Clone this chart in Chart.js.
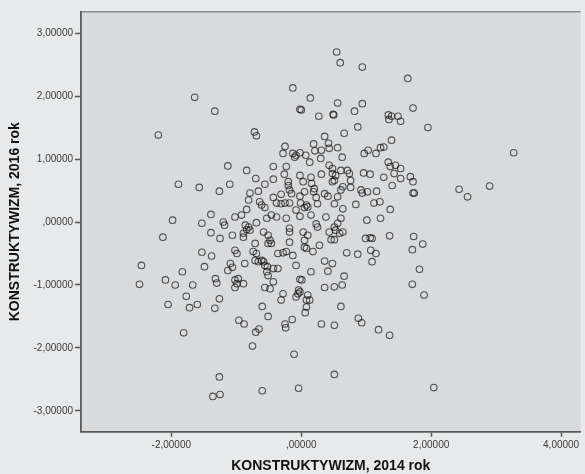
<!DOCTYPE html>
<html>
<head>
<meta charset="utf-8">
<script src="https://cdn.jsdelivr.net/npm/chart.js@4"></script>
<style>
  html, body { margin: 0; padding: 0; background: #e8e9ea; }
  #c { display: block; }
</style>
</head>
<body>
<canvas id="c" width="585" height="474"></canvas>
<script>
// KONSTRUKTYWIZM, 2014 rok (x) vs KONSTRUKTYWIZM, 2016 rok (y)
const xs = [
 // outer points
 -0.13,0.14,-1.64,-1.33,-0.02,0.00,0.27,-2.20,-1.13,-1.89,-1.57,-1.26,-1.10,
 0.545,0.60,0.94,1.64,0.56,0.94,1.72,0.49,0.50,0.82,1.34,1.35,1.39,1.49,1.53,1.95,3.27,2.43,2.90,2.56,
 -1.98,-1.53,-1.39,-1.20,-1.18,-2.13,-1.39,-1.25,-1.06,-1.53,-1.38,-2.46,-2.49,-1.83,-1.49,-1.13,-1.09,-1.06,
 -2.09,-1.94,-1.67,-1.32,-1.30,-1.77,-2.05,-1.72,-1.60,-1.26,-1.33,0.06,-0.51,-0.96,-0.88,-0.70,-0.65,-0.25,-0.24,
 -0.14,0.31,0.51,-1.81,-0.75,-0.11,0.51,-1.26,-1.36,-1.25,-0.60,-0.04,
 1.87,1.89,0.88,0.93,1.19,1.36,2.04,
 // central cloud, upper part
 -0.72,-0.69,0.36,0.66,0.87,1.39,-0.25,-0.28,-0.13,-0.08,-0.02,-0.10,0.07,0.19,0.21,0.31,0.42,0.43,0.56,0.63,
 0.13,0.30,0.43,0.48,0.97,1.03,1.15,1.22,1.27,-0.84,-0.43,-0.23,-0.26,-0.02,0.15,0.16,0.03,-0.20,-0.20,0.31,
 0.48,0.53,0.51,0.48,0.61,0.71,0.74,0.76,0.96,1.06,1.27,1.34,1.37,1.45,1.53,1.43,1.53,1.40,1.68,1.72,
 1.72,1.74,-0.70,-0.56,-0.43,-0.18,-0.15,0.05,0.20,0.19,-0.79,-0.81,-0.66,-0.43,-0.31,-0.02,0.23,0.36,0.41,0.56,
 0.61,0.64,0.76,0.92,0.94,1.02,1.16,-0.64,-0.61,-0.56,-0.84,-0.38,-0.31,-0.25,-0.18,-0.01,0.05,0.08,0.10,-0.08,
 0.25,0.51,0.64,0.84,1.12,1.21,1.37,
 // central cloud, lower part
 -1.02,-0.92,-0.86,-0.81,-0.79,-0.84,-0.89,-0.89,-0.69,-0.58,-0.51,-0.48,-0.46,-0.51,-0.46,-0.38,-0.53,-0.23,-0.18,-0.18,
 -0.02,0.15,0.38,0.03,0.23,0.25,0.10,0.05,0.05,0.08,0.18,-0.18,0.43,0.51,0.56,0.53,0.59,0.64,0.61,0.28,
 0.46,0.51,0.70,0.87,1.01,1.22,0.99,1.06,1.09,1.07,1.15,1.09,1.36,1.73,1.71,1.82,1.71,0.66,0.36,0.48,
 0.41,0.15,-0.08,-0.36,-0.28,-0.23,-0.13,-0.71,-0.74,-0.69,-0.71,-0.66,-0.61,-0.58,-0.56,-0.52,-0.53,-0.51,-0.43,-0.36,
 -1.02,-0.99,-0.87,-1.02,-0.97,-0.99,-1.02,-0.89,-0.43,-0.56,-0.48,-0.28,-0.31,-0.02,0.01,-0.04,-0.02,-0.05,0.10,0.13,
 0.08,-0.08,0.36,0.51,0.63,-0.60,0.08,0.61
];
const ys = [
 // outer points
 2.13,1.97,1.98,1.76,1.79,1.78,1.68,1.38,0.89,0.60,0.55,0.49,0.60,
 2.70,2.53,2.46,2.28,1.89,1.88,1.81,1.71,1.70,1.76,1.70,1.63,1.68,1.68,1.60,1.50,1.10,0.52,0.57,0.40,
 0.03,-0.02,0.12,0.00,-0.05,-0.24,-0.17,-0.26,-0.21,-0.48,-0.54,-0.69,-0.99,-0.79,-0.71,-0.77,-0.66,-0.72,
 -0.92,-1.00,-1.00,-0.90,-0.97,-1.18,-1.31,-1.36,-1.31,-1.22,-1.37,-1.44,-1.50,-1.56,-1.62,-1.75,-1.70,-1.62,-1.68,
 -1.55,-1.62,-1.64,-1.76,-1.97,-2.10,-2.42,-2.46,-2.77,-2.74,-2.68,-2.64,
 -0.35,-1.16,-1.53,-1.60,-1.71,-1.80,-2.63,
 // central cloud, upper part
 1.43,1.37,1.36,1.41,1.51,1.30,1.20,1.09,1.09,1.06,1.10,1.03,1.06,1.24,1.13,1.14,1.25,1.17,1.18,1.03,
 0.95,1.01,0.90,0.85,1.09,1.14,1.09,1.18,1.19,0.82,0.88,0.88,0.76,0.74,0.71,0.61,0.64,0.64,0.58,0.76,
 0.77,0.74,0.66,0.64,0.82,0.82,0.77,0.66,0.78,0.76,0.71,0.95,0.88,0.90,0.85,0.77,0.69,0.58,0.72,0.64,
 0.46,0.46,0.69,0.60,0.68,0.51,0.45,0.48,0.53,0.48,0.46,0.35,0.49,0.39,0.44,0.41,0.39,0.45,0.41,0.40,
 0.51,0.56,0.55,0.51,0.46,0.48,0.49,0.32,0.27,0.23,0.20,0.30,0.29,0.30,0.30,0.30,0.23,0.27,0.24,0.19,
 0.29,0.29,0.21,0.28,0.30,0.32,0.20,
 // central cloud, lower part
 0.08,0.11,-0.05,-0.08,-0.13,-0.12,-0.18,-0.24,-0.01,-0.16,-0.21,-0.29,-0.34,-0.34,0.11,0.08,0.06,0.06,-0.10,-0.16,
 0.09,0.11,0.08,-0.16,-0.03,-0.08,-0.21,-0.29,-0.40,-0.42,-0.47,-0.32,-0.16,-0.08,-0.02,-0.13,-0.18,-0.16,0.06,-0.37,
 -0.28,-0.28,-0.49,-0.51,0.03,0.06,-0.26,-0.25,-0.26,-0.45,-0.50,-0.63,-0.22,-0.23,-0.44,-0.75,-0.99,-0.86,-0.62,-0.66,
 -0.78,-0.79,-0.69,-0.50,-0.49,-0.47,-0.53,-0.34,-0.47,-0.50,-0.61,-0.63,-0.61,-0.63,-0.69,-0.71,-0.79,-0.85,-0.74,-0.74,
 -0.45,-0.50,-0.66,-0.92,-0.90,-0.98,-1.04,-0.98,-0.95,-1.04,-1.06,-1.14,-1.24,-0.91,-0.92,-1.08,-1.11,-1.14,-1.16,-1.24,
 -1.24,-1.19,-1.04,-1.03,-1.00,-1.34,-1.35,-1.34
];
const xTickValues = [-2, 0, 2, 4];
const xTickLabels = ['-2,00000', ',00000', '2,00000', '4,00000'];
const yTickValues = [-3, -2, -1, 0, 1, 2, 3];
const yTickLabels = ['-3,00000', '-2,00000', '-1,00000', ',00000', '1,00000', '2,00000', '3,00000'];
const xTitle = 'KONSTRUKTYWIZM, 2014 rok';
const yTitle = 'KONSTRUKTYWIZM, 2016 rok';

const points = xs.map((x, i) => ({ x: x, y: ys[i] }));

const bgPlugin = {
  id: 'bgPlugin',
  beforeDraw(chart) {
    const ctx = chart.ctx;
    const a = chart.chartArea;
    ctx.save();
    ctx.fillStyle = '#e8e9ea';
    ctx.fillRect(0, 0, chart.width, chart.height);
    ctx.fillStyle = '#d9dadc';
    ctx.fillRect(a.left, a.top, a.right - a.left, a.bottom - a.top);
    ctx.strokeStyle = '#8a8b8d';
    ctx.lineWidth = 1.5;
    ctx.beginPath();
    ctx.moveTo(a.left, a.top);
    ctx.lineTo(a.right, a.top);
    ctx.stroke();
    ctx.restore();
  }
};

const tickFont = { family: '"Liberation Sans", Arial, sans-serif', size: 10 };
const titleFont = { family: '"Liberation Sans", Arial, sans-serif', size: 14, weight: 'bold' };

new Chart(document.getElementById('c'), {
  type: 'scatter',
  data: {
    datasets: [{
      data: points,
      pointStyle: 'circle',
      pointRadius: 3.3,
      pointHoverRadius: 3.3,
      pointBorderWidth: 1.1,
      pointBorderColor: 'rgba(15,15,15,0.68)',
      pointBackgroundColor: 'rgba(0,0,0,0)'
    }]
  },
  plugins: [bgPlugin],
  options: {
    responsive: false,
    devicePixelRatio: 1,
    animation: false,
    events: [],
    layout: { padding: { top: 11.7, right: 0, bottom: 0, left: 0 } },
    plugins: { legend: { display: false }, tooltip: { enabled: false } },
    scales: {
      x: {
        type: 'linear',
        min: -3.39,
        max: 4.30,
        afterBuildTicks(scale) { scale.ticks = xTickValues.map(v => ({ value: v })); },
        afterFit(scale) { scale.height = 42.3; scale.paddingLeft = 0; scale.paddingRight = 0; },
        ticks: {
          callback(v) { const i = xTickValues.indexOf(v); return i >= 0 ? xTickLabels[i] : ''; },
          font: tickFont, color: '#3a3a3a', padding: 3, maxRotation: 0, autoSkip: false
        },
        grid: { display: true, drawOnChartArea: false, drawTicks: true, tickLength: 5, tickColor: '#555', tickWidth: 1.5 },
        border: { display: true, color: '#5a5a5a', width: 1.8 },
        title: { display: true, text: xTitle, font: titleFont, color: '#111', padding: { top: 0, bottom: -1 } }
      },
      y: {
        type: 'linear',
        min: -3.33,
        max: 3.34,
        afterBuildTicks(scale) { scale.ticks = yTickValues.map(v => ({ value: v })); },
        afterFit(scale) { scale.width = 81; scale.paddingTop = 0; scale.paddingBottom = 0; },
        ticks: {
          callback(v) { const i = yTickValues.indexOf(v); return i >= 0 ? yTickLabels[i] : ''; },
          font: tickFont, color: '#3a3a3a', padding: 2, autoSkip: false
        },
        grid: { display: true, drawOnChartArea: false, drawTicks: true, tickLength: 6, tickColor: '#555', tickWidth: 1.5 },
        border: { display: true, color: '#5a5a5a', width: 1.8 },
        title: { display: true, text: yTitle, font: titleFont, color: '#111', padding: { top: 6.6, bottom: 0 } }
      }
    }
  }
});
</script>
</body>
</html>
